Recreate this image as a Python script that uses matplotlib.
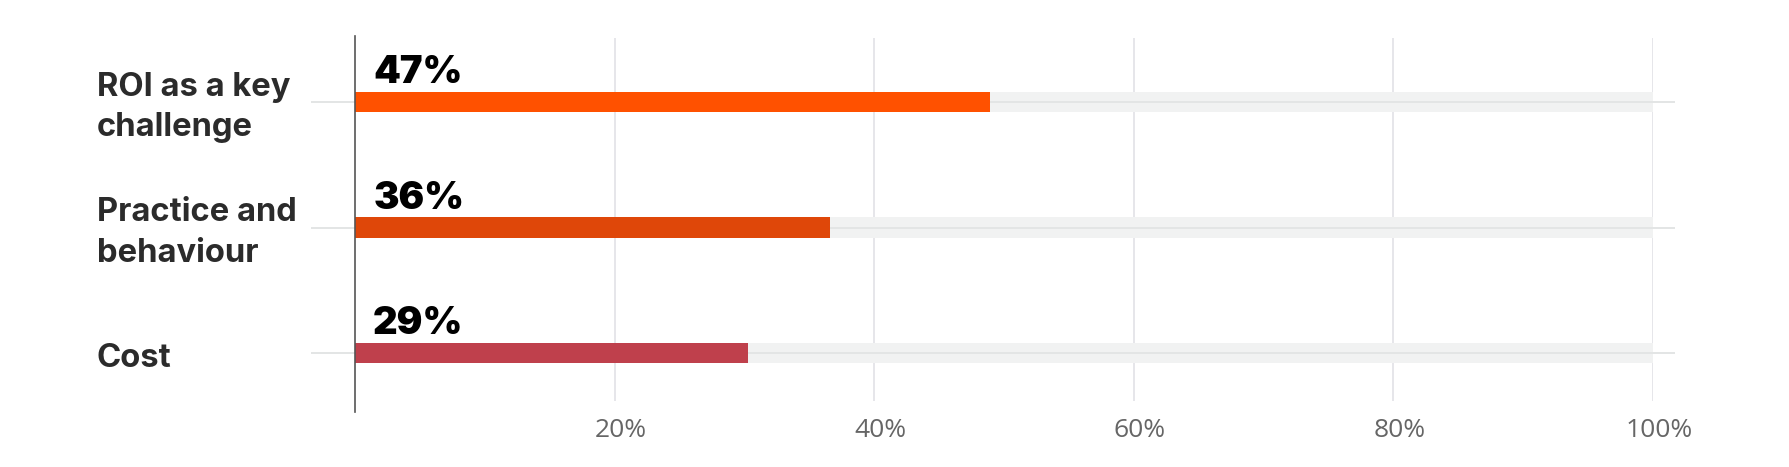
import numpy as np
import matplotlib
matplotlib.use("Agg")
import matplotlib.pyplot as plt
from matplotlib.transforms import ScaledTranslation

categories = ["ROI as a key\nchallenge", "Practice and\nbehaviour", "Cost"]
bar_values = [48.9, 36.6, 30.3]
value_labels = ["47%", "36%", "29%"]
bar_colors = ["#ff5100", "#df4709", "#bf404c"]
tick_values = [20, 40, 60, 80, 100]
tick_labels = ["20%", "40%", "60%", "80%", "100%"]

W, H = 1790, 467
fig = plt.figure(figsize=(W / 100, H / 100), dpi=100)
ax = fig.add_axes([355 / W, 1 - 412 / H, (1653 - 355) / W, (412 - 36) / H])

y = np.arange(len(categories))
bh = 0.167
px = 1 / 125.5  # data units per pixel along y

ax.set_xlim(0, 100)
ax.set_ylim(2.47, -0.526)

# vertical grid lines
ax.vlines(tick_values, -0.51, 2.382, color="#e6e6ea", lw=1.4, zorder=0)

# category guide lines that run past the plot area
ax.hlines(y, -3.4, 101.7, color="#e3e5e5", lw=1.4, zorder=1, clip_on=False)

# full-width track + value bar
ax.barh(y, [100] * len(y), height=bh, color="#f1f2f2", zorder=0.5)
ax.barh(y, bar_values, height=bh, color=bar_colors, zorder=2)

for yi, lab in zip(y, value_labels):
    ax.text(1.4, yi - 0.15, lab, fontsize=27.5, fontweight="black",
            family=["Inter", "DejaVu Sans"], color="#000000", va="baseline", ha="left")

# category labels: fixed line box, block centred on the row
for yi, cat in zip(y, categories):
    lines = cat.split("\n")
    n = len(lines)
    for k, line in enumerate(lines):
        base = yi + 14 * px + (k - (n - 1) / 2) * 40.5 * px
        ax.text(-0.1988, base, line, transform=ax.get_yaxis_transform(),
                fontsize=23.6, fontweight="bold", family=["Inter", "DejaVu Sans"],
                color="#2b2b2b", va="baseline", ha="left")

ax.set_xticks(tick_values)
ax.set_xticklabels(tick_labels, fontsize=19, color="#666666", family=["Open Sans", "DejaVu Sans"])
ax.tick_params(axis="x", length=0, pad=4)
ax.set_yticks([])
shift = ScaledTranslation(6 / 100, 0, fig.dpi_scale_trans)
for t in ax.get_xticklabels():
    t.set_transform(t.get_transform() + shift)

for s in ["top", "right", "bottom"]:
    ax.spines[s].set_visible(False)
ax.spines["left"].set_color("#555555")
ax.spines["left"].set_linewidth(1.2)
ax.spines["left"].set_zorder(3)

fig.savefig("out.png", dpi=100)
